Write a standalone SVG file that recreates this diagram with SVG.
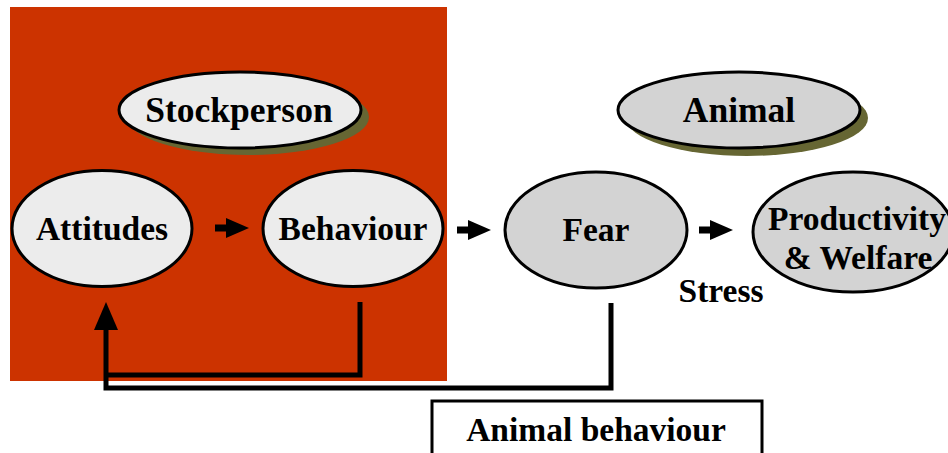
<svg xmlns="http://www.w3.org/2000/svg" width="948" height="453" viewBox="0 0 948 453">
<style>
text{font-family:"Liberation Serif","Times New Roman",serif;font-weight:bold;fill:#000;text-anchor:middle}
.lt{fill:#ECECEC;stroke:#000;stroke-width:3}
.gr{fill:#D3D3D3;stroke:#000;stroke-width:3}
.sh{fill:#666633}
.t{font-size:33.5px}
.tt{font-size:35.5px}
.ln{fill:none;stroke:#000;stroke-width:5;stroke-linejoin:miter}
</style>
<defs>
<g id="blk"><rect x="0" y="-3.5" width="12" height="7" fill="#000"/><polygon points="11,-10 34,0 11,10" fill="#000"/></g>
</defs>
<rect x="10" y="7" width="437" height="374" fill="#CC3300"/>
<g id="stockperson">
<ellipse class="sh" cx="248" cy="117" rx="121" ry="38"/>
<ellipse class="lt" cx="240" cy="110" rx="121" ry="38"/>
<text class="tt" x="239" y="122">Stockperson</text>
</g>
<g id="animal">
<ellipse class="sh" cx="747" cy="118" rx="121" ry="38"/>
<ellipse class="gr" cx="739" cy="110" rx="121" ry="38"/>
<text class="tt" x="739" y="122">Animal</text>
</g>
<g id="attitudes">
<ellipse class="lt" cx="102" cy="228.5" rx="90" ry="58"/>
<text class="t" x="102" y="240">Attitudes</text>
</g>
<g id="behaviour">
<ellipse class="lt" cx="353" cy="228.5" rx="90" ry="58"/>
<text class="t" x="353" y="240">Behaviour</text>
</g>
<g id="fear">
<ellipse class="gr" cx="596" cy="230" rx="91" ry="58"/>
<text class="t" x="596" y="241">Fear</text>
</g>
<g id="productivity">
<ellipse class="gr" cx="853" cy="232" rx="100" ry="60"/>
<text class="t" x="857" y="230">Productivity</text>
<text class="t" x="858" y="269">&amp; Welfare</text>
</g>
<g id="stress">
<text class="t" x="721" y="302">Stress</text>
</g>
<g id="animal-behaviour">
<rect x="432" y="401" width="330" height="70" fill="#fff" stroke="#000" stroke-width="3"/>
<text class="t" x="596" y="441">Animal behaviour</text>
</g>
<g id="connectors">
<use href="#blk" x="215" y="228"/>
<use href="#blk" x="457" y="230"/>
<use href="#blk" x="699" y="230"/>
<path class="ln" d="M360,302 V375 H106"/>
<path class="ln" d="M611,303 V388 H106 V326"/>
<polygon points="106,302 94,330 118,330" fill="#000"/>
</g>
</svg>
